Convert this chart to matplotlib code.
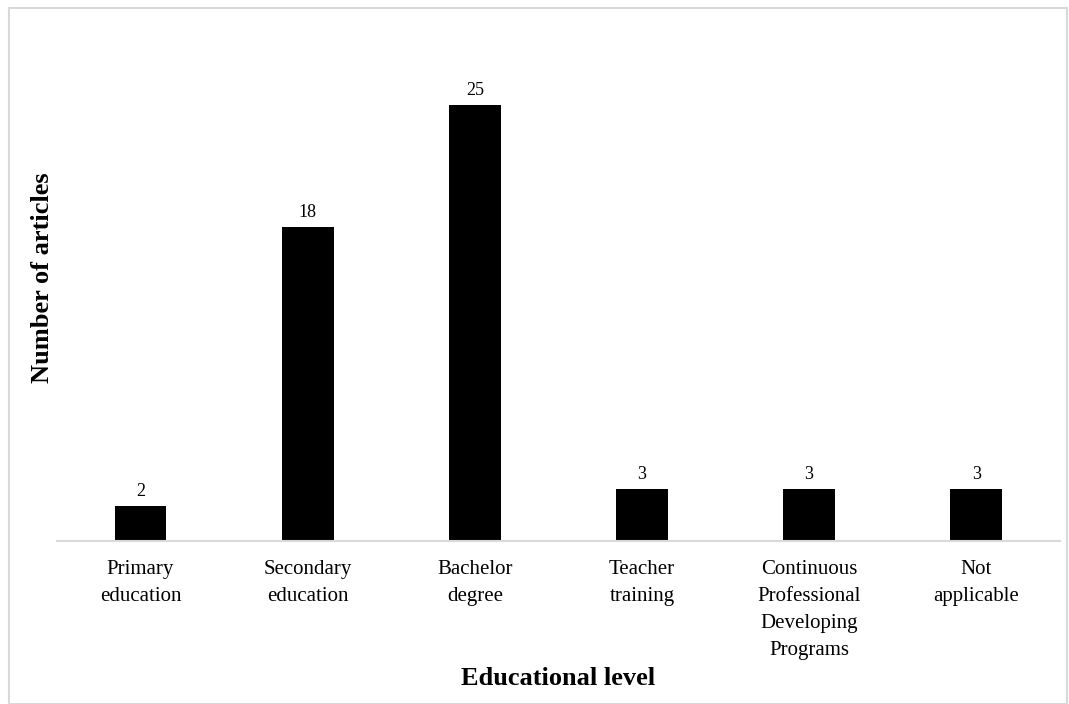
import matplotlib.pyplot as plt
from matplotlib.patches import Rectangle

# datos leidos da figura
categorias = ['Primary\neducation', 'Secondary\neducation', 'Bachelor\ndegree',
              'Teacher\ntraining', 'Continuous\nProfessional\nDeveloping\nPrograms',
              'Not\napplicable']
artigos = [2, 18, 25, 3, 3, 3]

plt.rcParams['font.family'] = ['Liberation Serif', 'DejaVu Serif']

fig = plt.figure(figsize=(10.69, 7.04), dpi=100)
ax = fig.add_axes([0.0533, 0.2315, 0.938, 0.6937])

# moldura cinza clara em volta da figura
fig.patches.append(Rectangle((0.008, 0.0), 0.99, 0.988, transform=fig.transFigure,
                             fill=False, edgecolor='#d9d9d9', linewidth=1.5))

x = range(len(categorias))
barras = ax.bar(x, artigos, width=0.31, color='black')
for b, v in zip(barras, artigos):
    ax.text(b.get_x() + b.get_width() / 2, v + 0.35, str(v),
            ha='center', va='bottom', fontsize=13)

ax.set_xlim(-0.5, len(categorias) - 0.5)
ax.set_ylim(0, 28)
ax.set_xticks(list(x))
ax.set_xticklabels(categorias, fontsize=15, linespacing=1.55)
ax.tick_params(axis='x', length=0, pad=14)
ax.set_yticks([])

for s in ['top', 'right', 'left']:
    ax.spines[s].set_visible(False)
ax.spines['bottom'].set_color('#d9d9d9')
ax.spines['bottom'].set_linewidth(1.5)

ax.set_ylabel('Number of articles', fontsize=19, fontweight='bold')
ax.yaxis.set_label_coords(-0.003, 0.539)
ax.set_xlabel('Educational level', fontsize=19, fontweight='bold', labelpad=5)

fig.savefig('out.png', dpi=100)
